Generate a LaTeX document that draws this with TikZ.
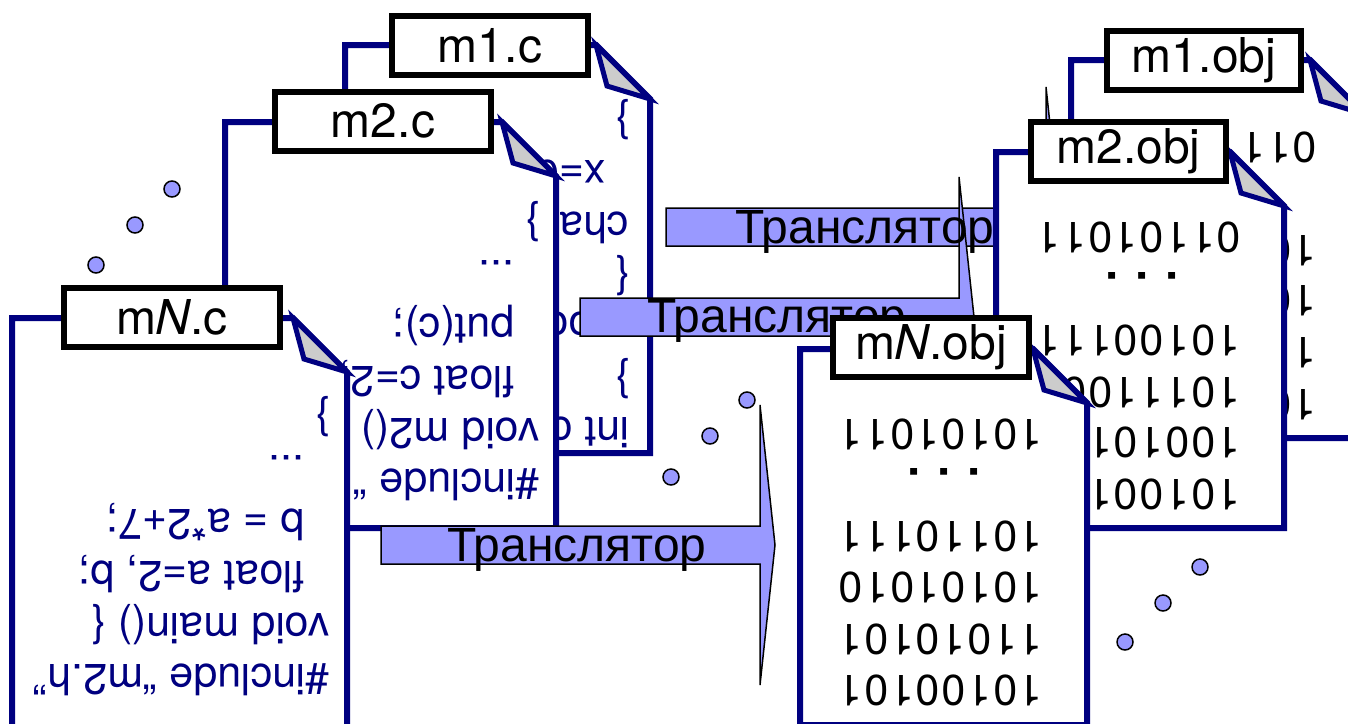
\documentclass[tikz,border=0pt]{standalone}
\usepackage{fontspec}
\setmainfont{TeX Gyre Heros}
\newfontfamily\transfont{Liberation Sans}
\definecolor{pagenavy}{RGB}{0,0,128}
\definecolor{blockblue}{RGB}{153,153,255}
\definecolor{foldgray}{RGB}{204,204,204}
\begin{document}
\begin{tikzpicture}[
  x=1pt, y=-1pt,
  sheetline/.style={draw=pagenavy, line width=6pt, fill=white, miter limit=20},
  foldline/.style={draw=pagenavy, line width=5pt, fill=foldgray, miter limit=20},
  namebox/.style={
    draw=black, line width=6pt, fill=white, inner sep=0pt,
    minimum height=59pt, font=\fontsize{48}{52}\selectfont,
  },
  arrowbody/.style={draw=black, line width=1.5pt, fill=blockblue},
  arrowtext/.style={anchor=base west, inner sep=0pt, font=\transfont\fontsize{48}{52}\selectfont},
  pointmark/.style={draw=black, line width=1.5pt, fill=blockblue, circle, minimum size=16pt, inner sep=0pt},
  codeline/.style={
    rotate=180, anchor=base west, inner sep=0pt, text=pagenavy,
    font=\fontsize{43}{50}\selectfont,
  },
  bitline/.style={
    rotate=180, anchor=base west, inner sep=0pt,
    font=\fontsize{43}{50}\selectfont\addfontfeatures{LetterSpace=4.2},
  },
  bitdots/.style={rotate=180, anchor=base, inner sep=0pt, font=\fontsize{46}{50}\selectfont\bfseries},
]

  \useasboundingbox (0,0) rectangle (1348,723);

  \def\gapdots{{.}{.}{.}}

  \def\drawSheet#1#2#3#4{
    \draw [sheetline] (#1,#4) -- (#1,#2) -- (#3-54,#2) -- (#3,#2+54) -- (#3,#4) -- cycle;
    \draw [foldline] (#3-54,#2) -- (#3,#2+54) -- (#3-43,#2+41) -- cycle;
  }

  \def\drawBlock#1#2#3{
    \draw [arrowbody] (#1,#3-19) -- (#2,#3-19) -- (#2,#3-140) -- (#2+15,#3)
      -- (#2,#3+140) -- (#2,#3+19) -- (#1,#3+19) -- cycle;
  }

  \drawSheet{345}{45}{650}{453}
  \foreach \xx/\yy/\txt [count=\i] in {630/108/\}, 606/160/x=0, 629/212/char c;, 630/264/\{,
      593/312/oo, 630/367/\}, 630/417/int c;}
    \node [codeline] (srcA\i) at (\xx,\yy) {\txt};
  \node [namebox, minimum width=196pt] (m1c) at (490,45.5) {m1.c};

  \drawSheet{225}{122}{556}{528}
  \foreach \xx/\yy/\txt [count=\i] in {540/469/\#include “m2.h”, 540/418/void m2(), 515/366/{float c=2;},
      515/314/put(c);, 515/260/\gapdots, 540/210/\}}
    \node [codeline] (srcB\i) at (\xx,\yy) {\txt};
  \node [namebox, minimum width=216pt] (m2c) at (383,121) {m2.c};

  \drawSheet{12}{318}{347}{745}
  \foreach \xx/\yy/\txt [count=\i] in {330/664/\#include “m2.h”, 330/613/void main() \{, 305/561/{float a=2, b;},
      305/509/b = a*2+7;, 305/455/\gapdots, 330/405/\}}
    \node [codeline] (srcN\i) at (\xx,\yy) {\txt};
  \node [namebox, minimum width=216pt] (mNc) at (172,317) {m\textit{N}.c};

  \drawBlock{666}{1046}{227}
  \drawBlock{580}{959}{317}
  \drawBlock{381}{760}{545}
  \node [arrowtext] (transA) at (735,243) {Транслятор};
  \node [arrowtext] (transB) at (647,332) {Транслятор};
  \node [arrowtext] (transN) at (447,561) {Транслятор};

  \foreach \xx/\yy [count=\i] in {172/189, 135/225, 96/265}
    \node [pointmark] (dotsrc\i) at (\xx,\yy) {};
  \foreach \xx/\yy [count=\i] in {747/400, 710/436, 671/477}
    \node [pointmark] (dotmid\i) at (\xx,\yy) {};
  \foreach \xx/\yy [count=\i] in {1200/567, 1163/603, 1125/642}
    \node [pointmark] (dotobj\i) at (\xx,\yy) {};

  \drawSheet{1071}{60}{1364}{438}
  \foreach \yy/\txt [count=\i] in {132/011, 235/10110101, 285/10100101, 337/11010101, 389/10100101}
    \node [bitline] (objA\i) at (1317,\yy) {\txt};
  \node [namebox, minimum width=194pt] (m1obj) at (1204,60.5) {m1.obj};

  \drawSheet{996}{152}{1284}{528}
  \foreach \yy/\txt [count=\i] in {222/01101011, 325/10100111, 377/10111001, 427/10010111, 479/10100101}
    \node [bitline] (objB\i) at (1241,\yy) {\txt};
  \node [bitdots] (gapB) at (1142,272) {. . .};
  \node [namebox, minimum width=195pt] (m2obj) at (1128.5,151) {m2.obj};

  \drawSheet{800}{349}{1087}{725}
  \foreach \yy/\txt [count=\i] in {419/10101011, 521/10110111, 572/10101010, 624/11010101, 675/10100101}
    \node [bitline] (objN\i) at (1043,\yy) {\txt};
  \node [bitdots] (gapN) at (944,468) {. . .};
  \node [namebox, minimum width=196pt] (mNobj) at (931,347.5) {m\textit{N}.obj};

\end{tikzpicture}
\end{document}
